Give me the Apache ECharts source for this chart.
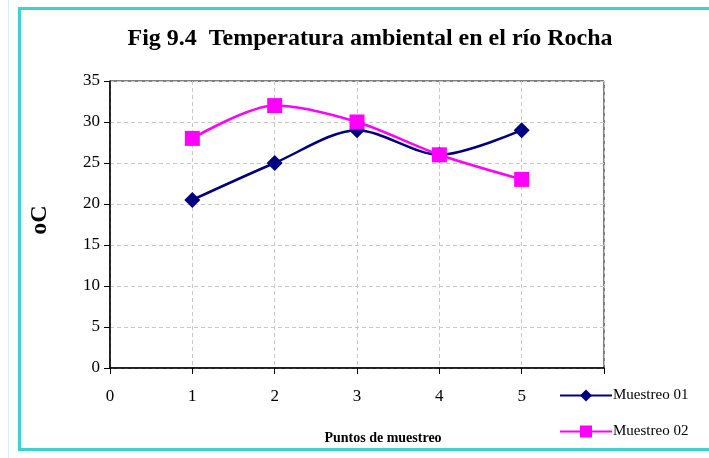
<!DOCTYPE html>
<html>
<head>
<meta charset="utf-8">
<script src="https://cdn.jsdelivr.net/npm/echarts@6/dist/echarts.min.js"></script>
<style>html,body{margin:0;padding:0;background:#fff;}#c{width:709px;height:458px;}</style>
</head>
<body>
<div id="c"></div>
<script>
var titleText = 'Fig 9.4  Temperatura ambiental en el río Rocha';
var xName = 'Puntos de muestreo';
var yName = 'oC';
var points = [1, 2, 3, 4, 5];
var muestreo01 = [20.5, 25, 29, 26, 29];
var muestreo02 = [28, 32, 30, 26, 23];
var seriesNames = ['Muestreo 01', 'Muestreo 02'];

function pairs(xs, ys) { return xs.map(function (x, i) { return [x, ys[i]]; }); }

var chart = echarts.init(document.getElementById('c'), null, {renderer: 'canvas'});
var serif = '"Liberation Serif", "Times New Roman", serif';
chart.setOption({
  animation: false,
  backgroundColor: '#ffffff',
  title: {
    text: titleText, left: 365, top: 22, textAlign: 'center',
    textStyle: {fontFamily: serif, fontWeight: 'bold', fontSize: 24, color: '#000'}
  },
  legend: {
    orient: 'vertical', left: 554, top: 383, itemGap: 21,
    itemWidth: 52, itemHeight: 15,
    textStyle: {fontFamily: serif, fontSize: 15, color: '#000', padding: [0, 0, 0, -4]},
    data: seriesNames
  },
  grid: {left: 110, right: 105, top: 81, bottom: 90, show: true, borderColor: '#000', borderWidth: 1},
  xAxis: {
    type: 'value', min: 0, max: 6, interval: 1,
    axisLine: {onZero: false, lineStyle: {color: '#000', width: 1.5}},
    axisTick: {show: true, length: 6, lineStyle: {color: '#000'}},
    axisLabel: {fontFamily: serif, fontSize: 17, color: '#000', margin: 20,
      formatter: function (v) { return v === 6 ? '' : String(v); }},
    splitLine: {show: true, lineStyle: {color: '#c8c8c8', type: [4, 3]}}
  },
  yAxis: {
    type: 'value', min: 0, max: 35, interval: 5,
    axisLine: {show: true, lineStyle: {color: '#000', width: 1.5}},
    axisTick: {show: true, length: 6, lineStyle: {color: '#000'}},
    axisLabel: {fontFamily: serif, fontSize: 17, color: '#000', margin: 10},
    splitLine: {show: true, lineStyle: {color: '#c8c8c8', type: [4, 3]}}
  },
  graphic: [
    {type: 'rect', shape: {x: 19.5, y: 8.5, width: 720, height: 441}, style: {fill: 'none', stroke: '#3cd2d2', lineWidth: 3}, silent: true},
    {type: 'line', shape: {x1: 8.5, y1: 0, x2: 8.5, y2: 458}, style: {stroke: '#d6f0fb', lineWidth: 1}, silent: true},
    {type: 'text', x: 383, y: 438, style: {text: xName, font: 'bold 14px ' + serif, fill: '#000', align: 'center', verticalAlign: 'middle'}},
    {type: 'text', x: 40, y: 220, rotation: Math.PI / 2, style: {text: yName, font: 'bold 24px ' + serif, fill: '#000', align: 'center', verticalAlign: 'middle'}}
  ],
  series: [
    {
      name: seriesNames[0], type: 'line', smooth: 0.3,
      data: pairs(points, muestreo01),
      symbol: 'diamond', symbolSize: 16,
      lineStyle: {color: '#000080', width: 2.5},
      itemStyle: {color: '#000080'}
    },
    {
      name: seriesNames[1], type: 'line', smooth: 0.3,
      data: pairs(points, muestreo02),
      symbol: 'rect', symbolSize: 15,
      lineStyle: {color: '#ff00ff', width: 2.5},
      itemStyle: {color: '#ff00ff'}
    }
  ]
});
</script>
</body>
</html>
